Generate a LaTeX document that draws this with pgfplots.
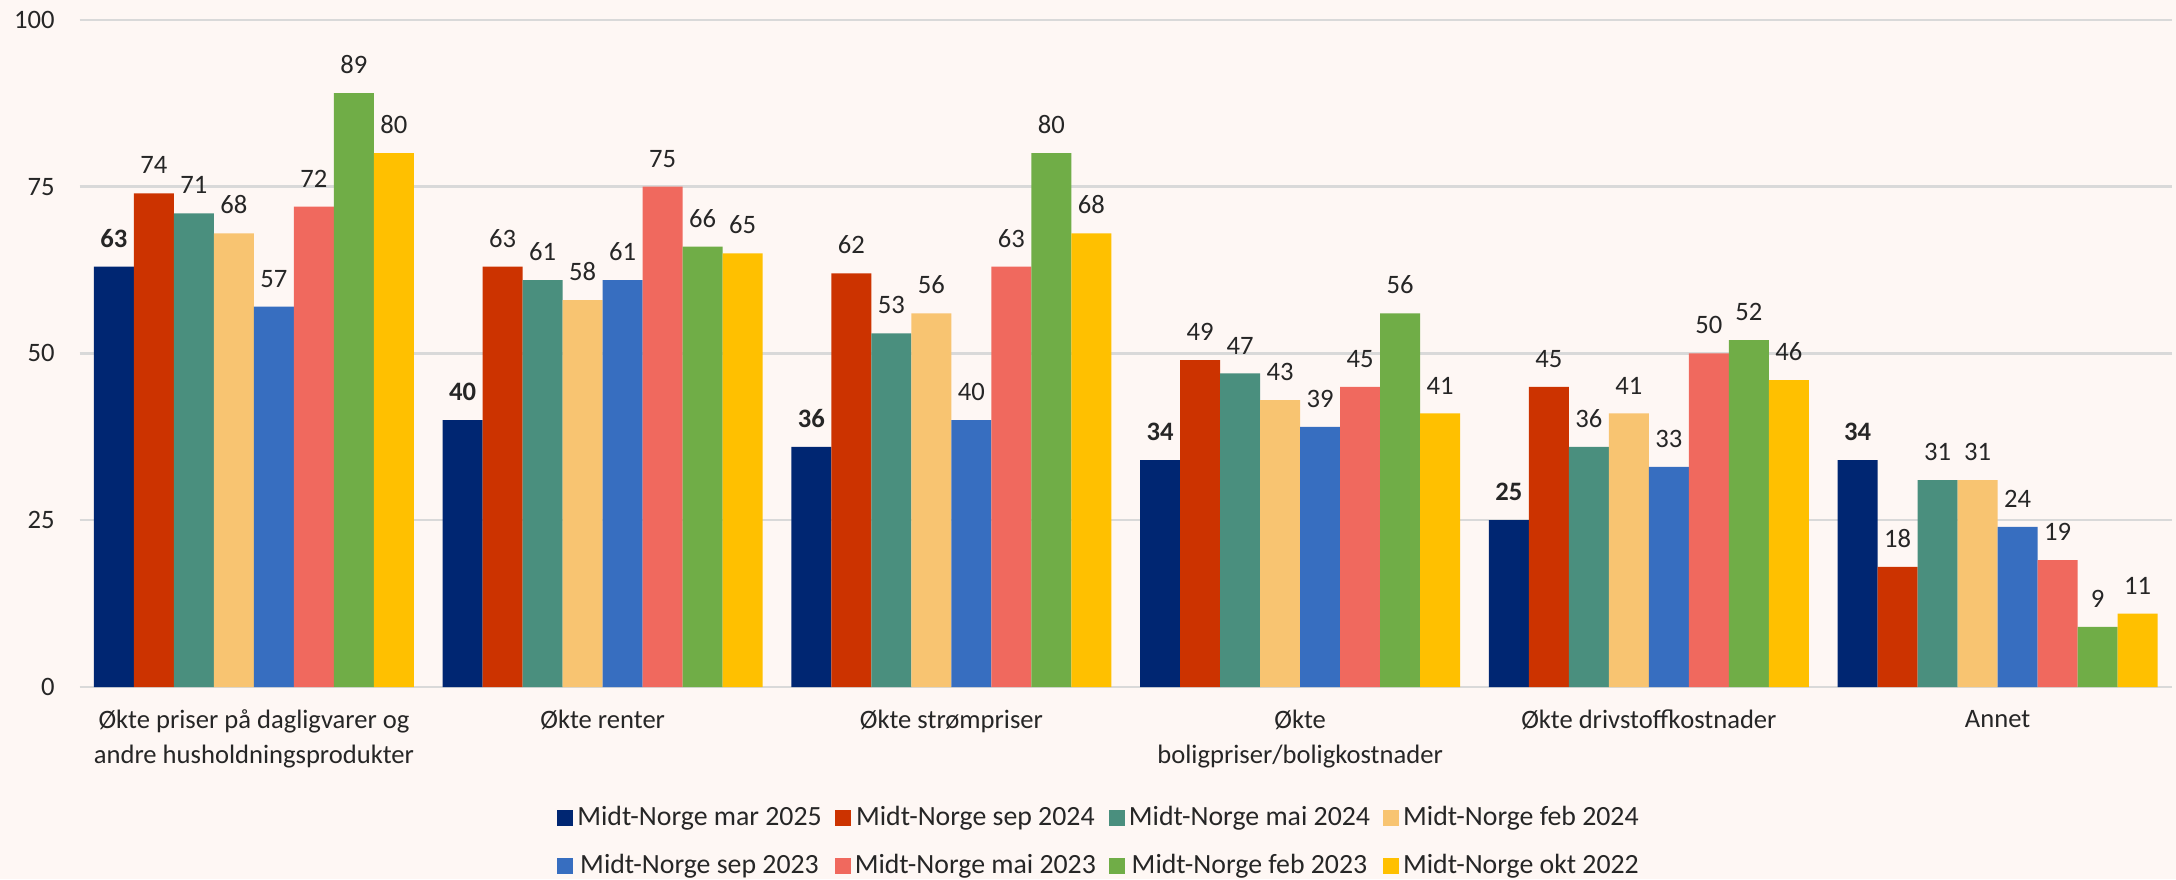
\documentclass[border=0pt]{standalone}
\usepackage{pgfplots}
\pgfplotsset{compat=1.18}
\usepackage{fontspec}
\setmainfont{Carlito}
\definecolor{bgc}{HTML}{FEF7F4}
\definecolor{txt}{HTML}{262626}
\definecolor{gridc}{HTML}{D9D9D9}
\definecolor{c1}{HTML}{002672}
\definecolor{c2}{HTML}{CC3300}
\definecolor{c3}{HTML}{4A8F7E}
\definecolor{c4}{HTML}{F8C471}
\definecolor{c5}{HTML}{376EC0}
\definecolor{c6}{HTML}{F0695E}
\definecolor{c7}{HTML}{70AD47}
\definecolor{c8}{HTML}{FFC000}
\newcommand\cf{\fontsize{13.3}{17.5}\selectfont}
\newcommand\lf{\fontsize{13.9}{17.5}\selectfont}
\begin{document}
\begin{tikzpicture}
\fill[bgc, use as bounding box] (-39.8pt,-96pt) rectangle (1048.2pt,343.5pt);
\begin{axis}[
  scale only axis, width=1046.2pt, height=333.6pt,
  at={(0,0)}, anchor=south west,
  ybar=0pt, bar width=20pt,
  xmin=-0.5, xmax=5.5, ymin=0, ymax=100,
  xtick={0,1,2,3,4,5},
  xticklabels={{Økte priser på dagligvarer og\\andre husholdningsprodukter},{Økte renter},{Økte strømpriser},{Økte\\boligpriser/boligkostnader},{Økte drivstoffkostnader},{Annet}},
  ytick={0,25,50,75,100},
  ymajorgrids, grid style={draw=gridc, line width=1.2pt},
  axis line style={draw=none},
  major tick length=0pt,
  tick label style={font=\cf, text=txt},
  xticklabel style={align=center, yshift=-8pt},
  yticklabel style={xshift=-9pt},
  /pgf/number format/assume math mode=true,
  nodes near coords,
  every node near coord/.append style={font=\cf, text=txt, inner sep=0pt, yshift=9.5pt},
  legend columns=4,
  legend style={at={(0.4877,-0.1703)}, anchor=north, draw=none, fill=none, inner sep=0pt,
    font=\lf, text=txt, nodes={inner sep=2pt, text height=10pt, text depth=3pt}, row sep=7pt,
    /tikz/every even column/.append style={column sep=4.5pt}},
  legend image code/.code={\fill[#1,draw=none] (0pt,-4pt) rectangle (8pt,4pt);},
  clip=false,
]
\addplot[fill=c1, draw=none, every node near coord/.append style={font=\cf\bfseries}] coordinates {(0,63) (1,40) (2,36) (3,34) (4,25) (5,34)};
\addplot[fill=c2, draw=none] coordinates {(0,74) (1,63) (2,62) (3,49) (4,45) (5,18)};
\addplot[fill=c3, draw=none] coordinates {(0,71) (1,61) (2,53) (3,47) (4,36) (5,31)};
\addplot[fill=c4, draw=none] coordinates {(0,68) (1,58) (2,56) (3,43) (4,41) (5,31)};
\addplot[fill=c5, draw=none] coordinates {(0,57) (1,61) (2,40) (3,39) (4,33) (5,24)};
\addplot[fill=c6, draw=none] coordinates {(0,72) (1,75) (2,63) (3,45) (4,50) (5,19)};
\addplot[fill=c7, draw=none] coordinates {(0,89) (1,66) (2,80) (3,56) (4,52) (5,9)};
\addplot[fill=c8, draw=none] coordinates {(0,80) (1,65) (2,68) (3,41) (4,46) (5,11)};
\legend{Midt-Norge mar 2025, Midt-Norge sep 2024, Midt-Norge mai 2024, Midt-Norge feb 2024, Midt-Norge sep 2023, Midt-Norge mai 2023, Midt-Norge feb 2023, Midt-Norge okt 2022}
\end{axis}
\end{tikzpicture}
\end{document}
